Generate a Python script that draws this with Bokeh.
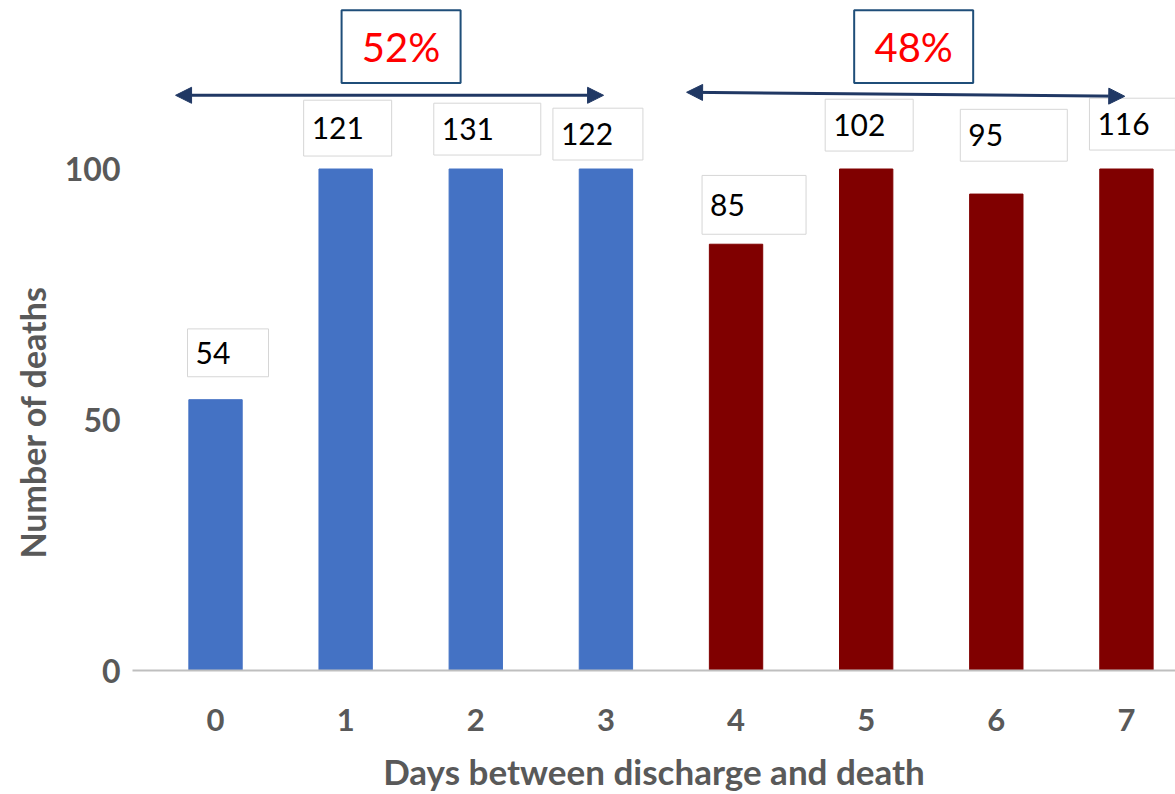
import numpy as np
from bokeh.plotting import figure
from bokeh.models import Range1d, FixedTicker, Arrow, NormalHead, ColumnDataSource, Title
from bokeh.core.properties import value
from bokeh.embed import file_html
from bokeh.resources import INLINE

# ---- data ----
days = [0, 1, 2, 3, 4, 5, 6, 7]
deaths = [54, 121, 131, 122, 85, 102, 95, 116]
day_tick_labels = ["0", "1", "2", "3", "4", "5", "6", "7"]
early_days = [0, 1, 2, 3]
late_days = [4, 5, 6, 7]
y_ticks = [0, 50, 100]
axis_cap = 100

# ---- style / layout ----
BLUE = "#4472C4"
RED = "#800000"
NAVY = "#203864"
GREY = "#595959"
FONT = "Lato"

W, H = 1175, 794
BORDER_L = 132
FRAME_H = 672
X0, X1 = -0.638, 7.377
Y0, Y1 = 0, 133.6
FRAME_W = W - BORDER_L
PX_X = FRAME_W / (X1 - X0)
PX_Y = FRAME_H / (Y1 - Y0)

# label box layout (pixels, relative to bar centre / bar top)
box_dx = [-28, -42, -42, -53, -34, -41, -36, -37]
box_w = [81, 88, 107, 90, 104, 88, 107, 86]
box_lift = [23, 13, 14, 9, 10, 18, 33, 19]
box_h = [48, 56, 52, 52, 59, 52, 52, 52]
# group arrow / box layout
arrow_start_dx = [-0.307, -0.38]
arrow_end_dx = [-0.018, -0.013]
arrow_y = [(114.7, 114.7), (115.3, 114.5)]
pct_box_dx = [-0.074, -0.135]

p = figure(width=W, height=H, output_backend="svg", toolbar_location=None,
           x_range=Range1d(X0, X1), y_range=Range1d(Y0, Y1),
           min_border_left=BORDER_L, min_border_right=0, min_border_top=0,
           min_border_bottom=H - FRAME_H)
p.outline_line_color = None
p.xgrid.visible = False
p.ygrid.visible = False
p.background_fill_color = "white"
p.border_fill_color = "white"

bar_top = np.minimum(np.array(deaths, dtype=float), axis_cap)
colors = [BLUE if d in early_days else RED for d in days]
src = ColumnDataSource(dict(x=days, top=bar_top, color=colors))
p.vbar(x="x", top="top", width=0.41, bottom=0, color="color", source=src)

# value labels in boxes
xs = np.array(days, dtype=float)
left = xs + np.array(box_dx) / PX_X
right = left + np.array(box_w) / PX_X
bottom = bar_top + np.array(box_lift) / PX_Y
top = bottom + np.array(box_h) / PX_Y
lsrc = ColumnDataSource(dict(left=left, right=right, bottom=bottom, top=top,
                             tx=left + 8 / PX_X, ty=(bottom + top) / 2,
                             txt=[str(v) for v in deaths]))
p.quad(left="left", right="right", bottom="bottom", top="top", source=lsrc,
       fill_color="white", line_color="#D6D6D6", line_width=1)
p.text(x="tx", y="ty", text="txt", source=lsrc, text_font=value(FONT),
       text_font_size="30px", text_color="black", text_baseline="middle",
       text_align="left")

# group arrows + percentage boxes
total = sum(deaths)
groups = [early_days, late_days]
pct = [round(100 * sum(deaths[d] for d in g) / total) for g in groups]
for i, (g, pc) in enumerate(zip(groups, pct)):
    ys, ye = arrow_y[i]
    p.add_layout(Arrow(x_start=min(g) + arrow_start_dx[i], y_start=ys,
                       x_end=max(g) + arrow_end_dx[i], y_end=ye,
                       line_color=NAVY, line_width=3,
                       start=NormalHead(size=16, fill_color=NAVY, line_color=NAVY),
                       end=NormalHead(size=16, fill_color=NAVY, line_color=NAVY)))
    cx = (min(g) + max(g)) / 2 + pct_box_dx[i]
    p.rect(x=[cx], y=[124.4], width=119 / PX_X, height=73 / PX_Y,
           fill_color="white", line_color="#1F4E79", line_width=2)
    p.text(x=[cx], y=[124.4], text=[f"{pc}%"], text_font=value(FONT),
           text_font_size="40px", text_color="#FF0000", text_align="center",
           text_baseline="middle")

# axes
xa = p.xaxis[0]
xa.ticker = FixedTicker(ticks=days)
xa.major_label_overrides = {d: l for d, l in zip(days, day_tick_labels)}
xa.axis_line_color = "#BFBFBF"
xa.axis_line_width = 2
xa.major_tick_line_color = None
xa.minor_tick_line_color = None
xa.major_tick_out = 0
xa.major_tick_in = 0
xa.major_label_standoff = 38
xa.major_label_text_font = FONT
xa.major_label_text_font_style = "bold"
xa.major_label_text_font_size = "31px"
xa.major_label_text_color = GREY
xa.axis_label = "Days between discharge and death"
xa.axis_label_text_font = FONT
xa.axis_label_text_font_style = "bold"
xa.axis_label_text_font_size = "35px"
xa.axis_label_text_color = GREY
xa.axis_label_standoff = 16

ya = p.yaxis[0]
ya.ticker = FixedTicker(ticks=y_ticks)
ya.axis_line_color = None
ya.major_tick_line_color = None
ya.minor_tick_line_color = None
ya.major_tick_out = 0
ya.major_tick_in = 0
ya.major_label_standoff = 12
ya.major_label_text_font = FONT
ya.major_label_text_font_style = "bold"
ya.major_label_text_font_size = "32px"
ya.major_label_text_color = GREY

# y-axis title, placed lower than the frame centre as in the reference
p.add_layout(Title(text="Number of deaths", align="left", offset=112,
                   text_font=FONT, text_font_style="bold", text_font_size="34px",
                   text_color=GREY, standoff=18), "left")

open("out.html", "w").write(file_html(p, INLINE))
